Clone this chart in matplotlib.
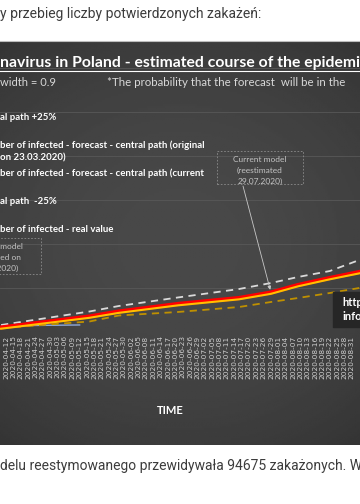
import numpy as np
import pandas as pd
import matplotlib
matplotlib.use("Agg")
import matplotlib.pyplot as plt
import matplotlib.dates as mdates
from matplotlib.patches import Rectangle
from matplotlib import font_manager

# page size in pixels
W, H = 360, 504

# forecast paths (number of infected)
dates = pd.to_datetime(["2020-04-10", "2020-05-16", "2020-05-28", "2020-06-21", "2020-07-16",
                        "2020-07-29", "2020-08-09", "2020-08-22", "2020-09-03"])
upper = [3180, 9320, 11820, 15680, 19540, 22270, 25000, 27720, 32720]
central_current = [2050, 7050, 9320, 12730, 15450, 17950, 21360, 24540, 27270]
central_original = [1500, 6450, 8700, 12100, 14850, 17350, 20750, 23950, 26650]
lower = [1820, 4770, 7500, 9090, 11360, 13640, 15450, 17730, 20000]

# real values
real_dates = pd.to_datetime(["2020-04-10", "2020-04-22", "2020-05-12"])
real_values = [2000, 2950, 3200]

tick_dates = pd.date_range("2020-04-12", "2020-08-31", freq="3D")
tick_labels = [d.strftime("%Y-%m-%d") for d in tick_dates]
reestimated = pd.Timestamp("2020-07-29")

legend_lines = [
    ("al path +25%", 118),
    ("ber of infected - forecast - central path (original", 145),
    ("on 23.03.2020)", 158),
    ("ber of infected - forecast - central path (current", 173),
    ("al path  -25%", 202),
    ("ber of infected - real value", 230),
]

names = {f.name for f in font_manager.fontManager.ttflist}
narrow = "Liberation Sans Narrow" if "Liberation Sans Narrow" in names else "Lato"


def fx(x):
    return x / W


def fy(y):
    return 1 - y / H


fig = plt.figure(figsize=(W / 100, H / 100), dpi=100)
fig.patch.set_facecolor("white")

# dark chart background with a soft vignette
bg = fig.add_axes([0, fy(445), 1, (445 - 41) / H])
yy, xx = np.mgrid[-1:1:200j, -1:1:200j]
shade = 0.285 - 0.05 * (xx ** 2 * 0.6 + yy ** 2)
bg.imshow(shade, cmap="gray", vmin=0, vmax=1, aspect="auto", extent=[0, 1, 0, 1])
bg.axis("off")
fig.add_artist(plt.Line2D([0, 1], [fy(41), fy(41)], transform=fig.transFigure,
                          color="#bdbdbd", lw=0.8))

ax = fig.add_axes([0, fy(332), 1, (332 - 68) / H])
ax.set_facecolor("none")
t0 = mdates.date2num(pd.Timestamp("2020-04-12"))
ax.set_xlim(t0 - 2.45, t0 + 144.3)
ax.set_ylim(0, 120000)
ax.set_yticks(np.arange(0, 120001, 20000))
ax.yaxis.grid(True, color="#585858", lw=0.6)
ax.tick_params(axis="y", left=False, labelleft=False)
for s in ax.spines.values():
    s.set_visible(False)

ax.plot(real_dates, real_values, color="#8ea9db", lw=1.0, zorder=2)
ax.plot(dates, lower, color="#bf9000", lw=1.3, ls=(0, (4, 3)), zorder=3)
ax.plot(dates, upper, color="#d9d9d9", lw=1.3, ls=(0, (4, 3)), zorder=3)
ax.plot(dates, central_current, color="#ff0000", lw=3.0, zorder=4)
ax.plot(dates, central_original, color="#ffc000", lw=1.5, zorder=5)

ax.set_xticks(tick_dates)
ax.set_xticklabels(tick_labels, rotation=90, fontsize=5.3, color="#cfcfcf")
ax.tick_params(axis="x", length=0, pad=2.5)

# arrow from the current model note to the reestimation date
kink = np.interp(mdates.date2num(reestimated), mdates.date2num(dates), central_current)
ax.annotate("", xy=(reestimated, kink), xytext=(fx(243), fy(186)), textcoords="figure fraction",
            arrowprops=dict(arrowstyle="-|>", color="#c8c8c8", lw=0.6, mutation_scale=5,
                            shrinkA=0, shrinkB=2))

# title and subtitle
fig.text(fx(0), fy(63), "navirus in Poland - estimated course of the epidemi", fontsize=11.3,
         fontweight="bold", color="white", family="Lato", va="center", ha="left")
fig.add_artist(plt.Line2D([0, 1], [fy(71), fy(71)], transform=fig.transFigure,
                          color="white", lw=0.8))
fig.text(fx(0), fy(82), "width = 0.9", fontsize=8, color="#d8d8d8", family="Lato",
         va="center", ha="left")
fig.text(fx(107), fy(82), "*The probability that the forecast  will be in the", fontsize=8.3,
         color="#d8d8d8", family="Lato", va="center", ha="left")

for txt, y in legend_lines:
    fig.text(fx(0), fy(y), txt, fontsize=6.9, fontweight="bold", color="white",
             family=narrow, va="center", ha="left")

# model notes
fig.add_artist(Rectangle((fx(217), fy(184)), (303 - 217) / W, (184 - 151) / H,
                         transform=fig.transFigure, fill=False, ec="#8c8c8c", lw=0.6,
                         ls=(0, (2, 2))))
for txt, y in [("Current model", 159), ("(reestimated", 170), ("29.07.2020)", 181)]:
    fig.text(fx(260), fy(y), txt, fontsize=6, color="#c4c4c4", family="Lato",
             va="center", ha="center")
fig.add_artist(Rectangle((fx(-47), fy(274)), (41 + 47) / W, (274 - 238) / H,
                         transform=fig.transFigure, fill=False, ec="#8c8c8c", lw=0.6,
                         ls=(0, (2, 2))))
for txt, y in [("Original model", 246), ("(estimated on", 257), ("23.03.2020)", 268)]:
    fig.text(fx(-4), fy(y), txt, fontsize=6, color="#c4c4c4", family="Lato",
             va="center", ha="center")

fig.add_artist(Rectangle((fx(333), fy(327)), (W - 333) / W, (327 - 292) / H,
                         transform=fig.transFigure, color="#262626", zorder=6))
fig.text(fx(342), fy(302), "http", fontsize=8, fontweight="bold", color="white",
         family="Lato", va="center", ha="left", zorder=7)
fig.text(fx(342), fy(316), "info", fontsize=8, fontweight="bold", color="white",
         family="Lato", va="center", ha="left", zorder=7)

fig.text(fx(170), fy(410), "TIME", fontsize=8, fontweight="bold", color="white",
         family="Lato", va="center", ha="center")

# page text around the picture
fig.text(fx(0), fy(14), "y przebieg liczby potwierdzonych zakażeń:", fontsize=10,
         color="#3c3c3c", family="Roboto", va="center", ha="left")
fig.text(fx(0), fy(466), "delu reestymowanego przewidywała 94675 zakażonych. W", fontsize=10,
         color="#3c3c3c", family="Roboto", va="center", ha="left")

fig.savefig("out.png", dpi=100)
